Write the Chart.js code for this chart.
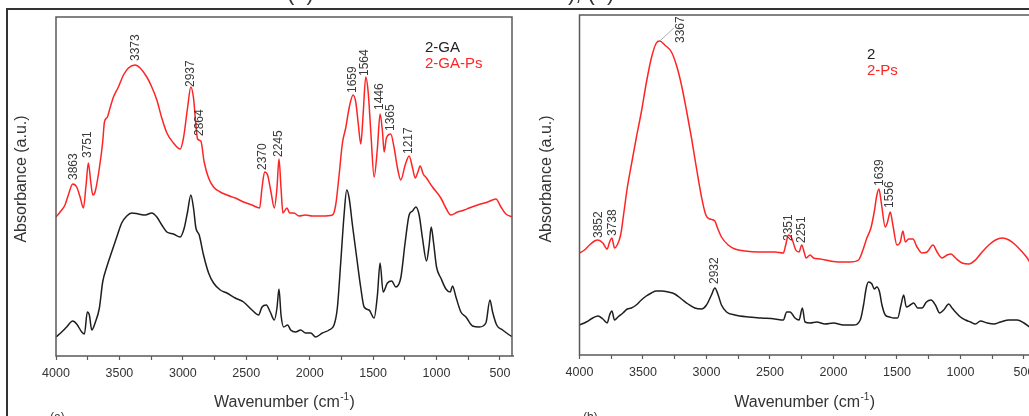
<!DOCTYPE html>
<html>
<head>
<meta charset="utf-8">
<script src="https://cdn.jsdelivr.net/npm/chart.js@4.4.1/dist/chart.umd.min.js"></script>
<style>
  body { margin: 0; background: #fff; }
  #wrap { position: relative; width: 1029px; height: 416px; overflow: hidden; font-family: "Liberation Sans", Arial, sans-serif; }
  canvas { position: absolute; top: 0; }
  .line { position: absolute; background: #333; }
  .cap { position: absolute; color: #333; white-space: pre; }
</style>
</head>
<body>
<div id="wrap">
  <canvas id="chartA" width="517" height="416" style="left:0"></canvas>
  <canvas id="chartB" width="512" height="416" style="left:517px"></canvas>
  <div class="line" style="left:6px;top:8px;width:1023px;height:2px"></div>
  <div class="line" style="left:6px;top:8px;width:2px;height:408px"></div>
  <div class="cap" style="left:287px;top:-18px;font-size:22px;line-height:22px">(a)</div>
  <div class="cap" style="left:568px;top:-18px;font-size:22px;line-height:22px">), (b)</div>
  <div class="cap" style="left:50px;top:411px;font-size:12px;line-height:12px">(a)</div>
  <div class="cap" style="left:583px;top:411px;font-size:12px;line-height:12px">(b)</div>
</div>
<script>
// ---- data (absorbance in a.u.) ----
// panel (a)
const gaPsWn = [
  4000,3968,3929,3903,3868,3837,3810,3784,3763,3745,
  3726,3710,3692,3658,3632,3618,3595,3574,3547,3508,
  3468,3429,3376,3337,3284,3245,3205,3166,3126,3074,
  3021,2995,2963,2937,2916,2897,2884,2858,2832,2797,
  2758,2705,2653,2587,2521,2455,2395,2376,2355,2332,
  2305,2279,2258,2242,2226,2211,2179,2158,2124,2084,
  2032,1979,1900,1821,1795,1768,1742,1716,1689,1658,
  1637,1616,1597,1579,1558,1539,1518,1492,1466,1445,
  1426,1413,1395,1361,1334,1308,1282,1247,1216,1189,
  1168,1147,1129,1105,1079,1032,966,926,887,834,
  782,742,676,597,532,492,453,400];
const gaPsAbs = [
  1.39,1.44,1.51,1.61,1.72,1.69,1.59,1.48,1.71,1.93,
  1.74,1.61,1.64,1.88,2.14,2.34,2.39,2.48,2.59,2.69,
  2.81,2.88,2.91,2.88,2.79,2.69,2.56,2.38,2.23,2.13,
  2.07,2.18,2.48,2.69,2.58,2.31,2.17,2.15,1.94,1.78,
  1.69,1.64,1.61,1.58,1.54,1.51,1.48,1.68,1.84,1.81,
  1.64,1.48,1.68,1.97,1.68,1.43,1.48,1.43,1.43,1.40,
  1.41,1.40,1.40,1.41,1.51,1.81,2.13,2.28,2.48,2.61,
  2.54,2.31,2.12,2.41,2.79,2.64,2.24,1.79,2.08,2.42,
  2.24,2.04,2.18,2.22,2.08,1.88,1.76,1.91,2.00,1.88,
  1.78,1.84,1.90,1.82,1.78,1.69,1.58,1.48,1.41,1.44,
  1.46,1.48,1.51,1.54,1.57,1.49,1.42,1.39];
const gaWn = [
  4000,3955,3916,3868,3837,3797,3776,3753,3737,3718,
  3692,3658,3632,3600,3561,3521,3482,3442,3403,3350,
  3297,3245,3205,3166,3126,3074,3021,2989,2963,2937,
  2916,2897,2871,2837,2797,2758,2705,2653,2587,2521,
  2455,2403,2376,2342,2311,2279,2258,2242,2226,2205,
  2174,2150,2111,2071,2032,1992,1953,1900,1847,1808,
  1782,1755,1729,1708,1689,1663,1632,1597,1571,1532,
  1492,1466,1445,1421,1387,1353,1321,1282,1247,1216,
  1189,1163,1137,1111,1079,1058,1042,1024,1000,966,
  926,892,874,847,808,768,716,663,611,579,
  558,526,479,426,400];
const gaAbs = [
  0.19,0.24,0.29,0.35,0.32,0.24,0.22,0.44,0.41,0.26,
  0.33,0.48,0.74,0.89,1.04,1.19,1.33,1.40,1.43,1.42,
  1.41,1.43,1.39,1.31,1.24,1.22,1.19,1.28,1.44,1.61,
  1.48,1.28,1.21,1.01,0.83,0.73,0.66,0.63,0.58,0.54,
  0.46,0.41,0.49,0.51,0.44,0.36,0.48,0.67,0.41,0.29,
  0.31,0.26,0.24,0.26,0.23,0.23,0.19,0.23,0.26,0.31,
  0.48,0.94,1.41,1.66,1.58,1.31,1.01,0.68,0.49,0.46,
  0.38,0.61,0.93,0.64,0.73,0.75,0.69,0.78,1.14,1.41,
  1.45,1.49,1.41,1.18,0.95,1.11,1.29,1.14,0.89,0.78,
  0.67,0.64,0.70,0.59,0.44,0.39,0.30,0.29,0.33,0.56,
  0.44,0.31,0.26,0.21,0.19];
const gaPsPeakWn  = [3863,3751,3373,2937,2864,2370,2245,1659,1564,1446,1365,1217];
const gaPsPeakAbs = [1.74,1.96,2.93,2.67,2.18,1.84,1.97,2.61,2.78,2.44,2.23,2.00];

// panel (b)
const psWn = [
  4000,3961,3921,3882,3855,3816,3782,3763,3745,3724,
  3703,3676,3650,3624,3592,3553,3513,3474,3434,3395,
  3368,3329,3276,3237,3197,3158,3118,3079,3039,3005,
  2974,2934,2913,2882,2829,2776,2697,2592,2461,2395,
  2376,2355,2329,2297,2271,2250,2229,2216,2184,2158,
  2105,2026,1947,1868,1803,1768,1737,1705,1679,1658,
  1642,1624,1592,1574,1553,1532,1500,1474,1453,1434,
  1408,1374,1342,1303,1263,1216,1184,1145,1105,1074,
  1039,987,934,882,829,776,724,671,618,566,
  513,474,455];
const psAbs = [
  1.02,1.05,1.10,1.14,1.15,1.12,1.06,1.13,1.17,1.07,
  1.10,1.20,1.43,1.67,1.90,2.17,2.43,2.72,2.97,3.12,
  3.14,3.10,3.03,2.90,2.70,2.45,2.17,1.87,1.58,1.40,
  1.36,1.34,1.27,1.18,1.10,1.06,1.04,1.03,1.03,1.02,
  1.10,1.20,1.17,1.05,1.03,1.10,1.02,0.97,1.00,0.97,
  0.96,0.94,0.93,0.93,0.95,1.05,1.17,1.27,1.43,1.60,
  1.66,1.53,1.28,1.33,1.43,1.30,1.10,1.13,1.24,1.13,
  1.16,1.16,1.08,1.02,1.03,1.10,1.03,0.97,1.00,1.01,
  0.97,0.92,0.91,0.95,1.03,1.10,1.15,1.17,1.15,1.10,
  1.03,0.97,0.93];
const twoWn = [
  4000,3947,3895,3855,3816,3782,3763,3745,3724,3697,
  3658,3624,3592,3553,3513,3474,3434,3395,3350,3303,
  3250,3197,3145,3092,3039,3000,2961,2934,2908,2882,
  2842,2776,2671,2566,2461,2395,2368,2342,2303,2271,
  2245,2224,2184,2132,2066,2000,1921,1842,1789,
  1763,1742,1724,1697,1679,1658,1637,1618,1592,1558,
  1526,1495,1468,1447,1426,1395,1368,1337,1303,1268,
  1232,1197,1163,1132,1092,1066,1039,1000,960,921,
  882,842,789,737,684,618,553,500,455];
const twoAbs = [
  0.30,0.33,0.37,0.39,0.36,0.32,0.40,0.44,0.35,0.38,
  0.42,0.46,0.47,0.50,0.55,0.59,0.62,0.64,0.64,0.63,
  0.61,0.56,0.51,0.47,0.46,0.50,0.60,0.67,0.60,0.50,
  0.43,0.40,0.38,0.37,0.36,0.35,0.43,0.43,0.37,0.35,
  0.47,0.33,0.32,0.33,0.31,0.32,0.30,0.30,0.35,
  0.50,0.67,0.73,0.71,0.66,0.68,0.63,0.50,0.40,0.38,
  0.37,0.37,0.50,0.60,0.48,0.50,0.52,0.47,0.47,0.53,
  0.55,0.50,0.42,0.45,0.51,0.47,0.43,0.38,0.35,0.33,
  0.31,0.34,0.32,0.31,0.33,0.35,0.35,0.32,0.28];
const psPeakWn   = [3852,3738,3367,2351,2251,1639,1556];
const psPeakAbs  = [1.15,1.17,3.14,1.12,1.10,1.67,1.45];
const twoPeakWn  = [2932];
const twoPeakAbs = [0.69];

const tickValues = [4000,3750,3500,3250,3000,2750,2500,2250,2000,1750,1500,1250,1000,750,500];

const FONT = '"Liberation Sans", Arial, sans-serif';
const RED = '#ff2424';
const BLACK = '#1e1e1e';

function pts(xs, ys) {
  return xs.map((x, i) => ({ x: x, y: ys[i] }));
}

function decor(o) {
  return {
    id: 'decor',
    afterDatasetsDraw(chart) {
      const { ctx, chartArea: a } = chart;
      const x = chart.scales.x, y = chart.scales.y;
      ctx.save();
      // plot frame
      ctx.strokeStyle = '#5a5a5a';
      ctx.lineWidth = 1.5;
      ctx.beginPath();
      if (o.rightBorder) {
        ctx.moveTo(a.right, a.bottom); ctx.lineTo(a.right, a.top);
      } else {
        ctx.moveTo(a.right + 2, a.top);
      }
      ctx.lineTo(a.left, a.top);
      ctx.lineTo(a.left, a.bottom);
      ctx.lineTo(a.right + 2, a.bottom);
      ctx.stroke();

      // peak labels
      ctx.fillStyle = '#3a3a3a';
      ctx.font = '12px ' + FONT;
      ctx.textBaseline = 'middle';
      ctx.textAlign = 'left';
      o.peaks.forEach(set => {
        set.wn.forEach((wn, i) => {
          const px = x.getPixelForValue(wn);
          const py = y.getPixelForValue(set.abs[i]);
          ctx.save();
          if (wn === o.leader) {
            ctx.strokeStyle = '#9a9a9a';
            ctx.lineWidth = 0.8;
            ctx.beginPath();
            ctx.moveTo(px, py);
            ctx.lineTo(px + 14, py - 13);
            ctx.stroke();
            ctx.translate(px + 21, py + 2);
          } else {
            ctx.translate(px, py - 2);
          }
          ctx.rotate(-Math.PI / 2);
          ctx.fillText(String(wn), 0, 0);
          ctx.restore();
        });
      });

      // series names
      ctx.font = '15px ' + FONT;
      ctx.textBaseline = 'alphabetic';
      o.names.forEach(n => {
        ctx.fillStyle = n.color;
        ctx.fillText(n.text, n.x, n.y);
      });

      // axis titles
      ctx.fillStyle = '#333';
      ctx.save();
      ctx.translate(o.yTitleX, 179);
      ctx.rotate(-Math.PI / 2);
      ctx.font = '16px ' + FONT;
      ctx.textAlign = 'center';
      ctx.textBaseline = 'middle';
      ctx.fillText('Absorbance (a.u.)', 0, 0);
      ctx.restore();

      const main = 'Wavenumber (cm', sup = '-1', end = ')';
      ctx.font = '16px ' + FONT;
      const w1 = ctx.measureText(main).width, w3 = ctx.measureText(end).width;
      ctx.font = '10px ' + FONT;
      const w2 = ctx.measureText(sup).width;
      const cx = (a.left + Math.min(a.right, o.titleRight)) / 2;
      let sx = cx - (w1 + w2 + w3) / 2;
      ctx.textAlign = 'left';
      ctx.font = '16px ' + FONT;
      ctx.fillText(main, sx, 407);
      ctx.font = '10px ' + FONT;
      ctx.fillText(sup, sx + w1 + 0.5, 400);
      ctx.font = '16px ' + FONT;
      ctx.fillText(end, sx + w1 + w2 + 1, 407);
      ctx.restore();
    }
  };
}

function makeChart(id, series, xMin, yMax, pad, axisH, o) {
  return new Chart(document.getElementById(id), {
    type: 'line',
    data: {
      datasets: series.map(s => ({
        label: s.name,
        data: pts(s.wn, s.abs),
        borderColor: s.color,
        borderWidth: 1.5,
        pointRadius: 0,
        cubicInterpolationMode: 'monotone',
        fill: false
      }))
    },
    options: {
      responsive: false,
      animation: false,
      events: [],
      layout: { padding: pad },
      plugins: { legend: { display: false }, tooltip: { enabled: false } },
      scales: {
        x: {
          type: 'linear',
          reverse: true,
          min: xMin,
          max: 4000,
          afterBuildTicks: s => { s.ticks = tickValues.map(v => ({ value: v })); },
          afterFit: s => { s.height = axisH; s.paddingLeft = 0; s.paddingRight = 0; },
          grid: { display: true, drawOnChartArea: false, drawTicks: true, tickLength: 4, tickColor: '#5a5a5a', tickWidth: 1.2 },
          border: { display: false },
          ticks: {
            autoSkip: false,
            maxRotation: 0,
            padding: 6,
            color: '#333',
            font: { family: FONT, size: 12.5 },
            callback: v => (v % 500 === 0 ? String(v) : '')
          }
        },
        y: { display: false, min: 0, max: yMax }
      }
    },
    plugins: [decor(o)]
  });
}

makeChart('chartA', [
  { name: '2-GA', wn: gaWn, abs: gaAbs, color: BLACK },
  { name: '2-GA-Ps', wn: gaPsWn, abs: gaPsAbs, color: RED }
], 405, 3.39, { left: 56, top: 17, right: 5, bottom: 0 }, 60, {
  rightBorder: true,
  titleRight: 512,
  yTitleX: 22,
  leader: null,
  peaks: [{ wn: gaPsPeakWn, abs: gaPsPeakAbs }],
  names: [
    { text: '2-GA', color: '#222', x: 425, y: 52 },
    { text: '2-GA-Ps', color: RED, x: 425, y: 67.5 }
  ]
});

makeChart('chartB', [
  { name: '2', wn: twoWn, abs: twoAbs, color: BLACK },
  { name: '2-Ps', wn: psWn, abs: psAbs, color: RED }
], 460, 3.40, { left: 62.5, top: 15, right: 0, bottom: 0 }, 61, {
  rightBorder: false,
  titleRight: 1000,
  yTitleX: 30,
  leader: 3367,
  peaks: [{ wn: psPeakWn, abs: psPeakAbs }, { wn: twoPeakWn, abs: twoPeakAbs }],
  names: [
    { text: '2', color: '#222', x: 350, y: 59 },
    { text: '2-Ps', color: RED, x: 350, y: 75 }
  ]
});
</script>
</body>
</html>
